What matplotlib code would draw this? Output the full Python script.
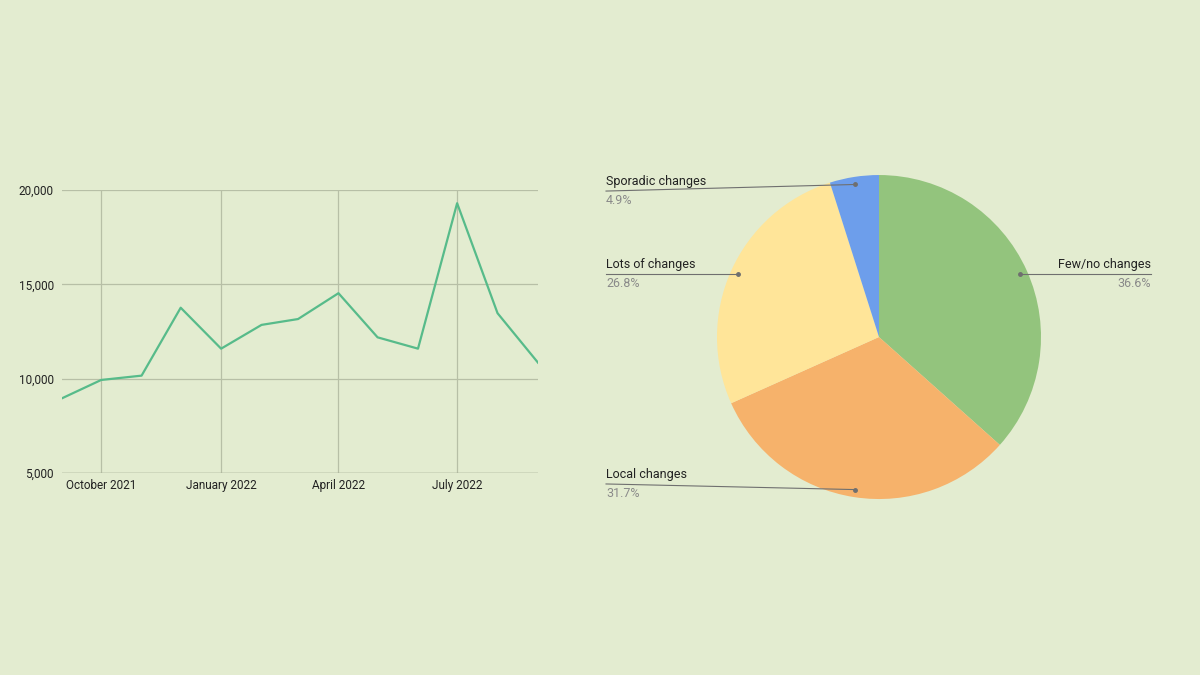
"""
Monthly volume line chart next to a change-frequency pie — saves out.png.
"""

import matplotlib
matplotlib.use("Agg")
import matplotlib.pyplot as plt
import matplotlib.ticker as mticker
import numpy as np
import pandas as pd

BG = "#e3ecd0"
GRID = "#b7bfa6"
LINE = "#57bb8a"
TEXT = "#222222"
MUTED = "#8a8a8a"

# ── data ──────────────────────────────────────────────────────────────────────
months = ["2021-09-01", "2021-10-01", "2021-11-01", "2021-12-01", "2022-01-01",
          "2022-02-01", "2022-03-01", "2022-04-01", "2022-05-01", "2022-06-01",
          "2022-07-01", "2022-08-01", "2022-09-01"]
values = [8960, 9930, 10160, 13760, 11590, 12850, 13160, 14530, 12190, 11590,
          19300, 13470, 10850]
tick_dates = ["2021-10-01", "2022-01-01", "2022-04-01", "2022-07-01"]
tick_labels = ["October 2021", "January 2022", "April 2022", "July 2022"]

categories = ["Few/no changes", "Local changes", "Lots of changes", "Sporadic changes"]
shares = [36.6, 31.7, 26.8, 4.9]
pie_colors = ["#93c47d", "#f6b26b", "#ffe599", "#6d9eeb"]

plt.rcParams.update({
    "font.family": ["Roboto", "DejaVu Sans"],
    "font.size": 9,
})

fig = plt.figure(figsize=(12, 6.75), dpi=100, facecolor=BG)

# ── 1. line chart ────────────────────────────────────────────────────────────
ax = fig.add_axes([0.0517, 0.2993, 0.3966, 0.4192], facecolor=BG)
x = pd.to_datetime(months)
ax.plot(x, values, color=LINE, linewidth=1.6, zorder=3)
ax.set_xlim(x[0], x[-1])
ax.set_ylim(5000, 20000)
ax.set_yticks([5000, 10000, 15000, 20000])
ax.yaxis.set_major_formatter(mticker.FuncFormatter(lambda v, _: f"{int(v):,}"))
ax.set_xticks(pd.to_datetime(tick_dates))
ax.set_xticklabels(tick_labels)
ax.grid(True, color=GRID, linewidth=0.9, zorder=1)
for s in ax.spines.values():
    s.set_visible(False)
ax.axhline(5000, color="#9aa38c", linewidth=1.0, zorder=2)
ax.tick_params(length=0, labelsize=8.5, colors=TEXT)
ax.tick_params(axis="y", pad=6)
ax.tick_params(axis="x", pad=4)

# ── 2. pie chart ─────────────────────────────────────────────────────────────
pax = fig.add_axes([0.5975, 0.2607, 0.27, 0.48])
wedges, _ = pax.pie(shares, colors=pie_colors, startangle=90, counterclock=False,
                    radius=1.0, wedgeprops={"linewidth": 0})
pax.set_xlim(-1, 1)
pax.set_ylim(-1, 1)
pax.set_aspect("equal")
pax.axis("off")

# label placement: (x of text anchor, y of leader line, side)
label_pos = [(1.679, None, "right"), (-1.685, -0.907, "left"),
             (-1.685, None, "left"), (-1.685, 0.901, "left")]
cum = np.cumsum([0] + shares[:-1])
for name, share, c0, (lx, ly, side) in zip(categories, shares, cum, label_pos):
    mid = np.deg2rad(90 - (c0 + share / 2) * 3.6)
    dx, dy = 0.953 * np.cos(mid), 0.953 * np.sin(mid)
    if ly is None:
        ly = dy
    pax.plot([dx, lx], [dy, ly], color="#6f6f6f", linewidth=0.8, clip_on=False)
    pax.plot(dx, dy, "o", color="#6f6f6f", markersize=2.5, clip_on=False)
    ha = "right" if side == "right" else "left"
    pax.text(lx, ly + 0.02, name, ha=ha, va="bottom", fontsize=9, color=TEXT, clip_on=False)
    pax.text(lx, ly - 0.02, f"{share}%", ha=ha, va="top", fontsize=9, color=MUTED, clip_on=False)

fig.savefig("out.png", dpi=100, facecolor=BG)
